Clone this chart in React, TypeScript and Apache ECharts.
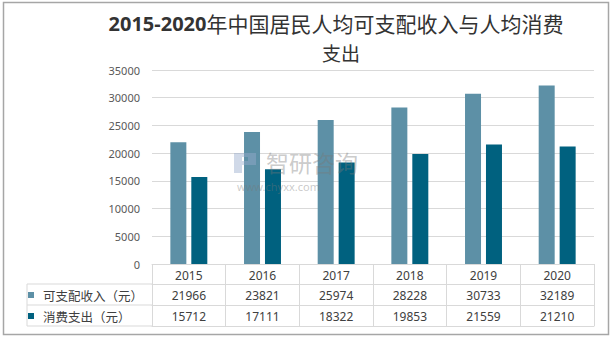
import React, { useEffect, useRef } from "react";
import * as echarts from "echarts";

const years = ["2015", "2016", "2017", "2018", "2019", "2020"];
const incomeName = "可支配收入（元）";
const expenseName = "消费支出（元）";
const income = [21966, 23821, 25974, 28228, 30733, 32189];
const expense = [15712, 17111, 18322, 19853, 21559, 21210];
const yTicks = { min: 0, max: 35000, interval: 5000 };

const titleLine1a = "2015-2020";
const titleLine1b = "年中国居民人均可支配收入与人均消费";
const titleLine2 = "支出";

const LINE = "#d9d9d9";
const TXT = "#404040";

echarts.graphic.registerShape(
  "logo",
  echarts.graphic.extendPath("M0 0H22V12H8V20H0Z M8 4V8H14V4Z", {}) as any
);

export default function App() {
  const ref = useRef<HTMLDivElement>(null);
  useEffect(() => {
    if (!ref.current) return;
    const chart = echarts.init(ref.current, undefined, { renderer: "svg" });
    const tableLabel = (arr: number[]) => (_v: string, i: number) => String(arr[i]);
    chart.setOption({
      animation: false,
      backgroundColor: "#fff",
      title: [
        {
          text: `{a|${titleLine1a}}{b|${titleLine1b}}`,
          left: 336,
          top: 11,
          textAlign: "center",
          padding: 0,
          textStyle: {
            rich: {
              a: { fontFamily: "Noto Sans", fontWeight: "bold", fontSize: 20, color: "#333", lineHeight: 24 },
              b: { fontFamily: "Noto Sans CJK SC", fontWeight: "normal", fontSize: 21, color: "#333", lineHeight: 24 },
            },
          },
        },
        {
          text: titleLine2,
          left: 341,
          top: 41,
          textAlign: "center",
          padding: 0,
          textStyle: { fontFamily: "Noto Sans CJK SC", fontWeight: "normal", fontSize: 19, color: "#333", lineHeight: 22 },
        },
      ],
      legend: {
        orient: "vertical",
        left: 28,
        top: 288,
        padding: 0,
        itemWidth: 6,
        itemHeight: 6,
        itemGap: 7,
        icon: "rect",
        selectedMode: false,
        textStyle: {
          fontFamily: "Noto Sans CJK SC",
          fontSize: 12.5,
          color: TXT,
          lineHeight: 14,
          padding: [0, 0, 0, 4],
        },
        data: [incomeName, expenseName],
      },
      grid: { left: 152, right: 19, top: 70, bottom: 75 },
      xAxis: [
        {
          type: "category",
          data: years,
          position: "bottom",
          axisLine: { lineStyle: { color: LINE } },
          axisTick: { show: true, length: 62, interval: 0, lineStyle: { color: LINE } },
          axisLabel: { margin: 5, fontFamily: "Noto Sans", fontSize: 12, color: TXT, interval: 0 },
        },
        {
          type: "category",
          data: years,
          position: "bottom",
          offset: 20,
          axisLine: { lineStyle: { color: LINE } },
          axisTick: { show: false },
          axisLabel: { margin: 5, fontFamily: "Noto Sans", fontSize: 12, color: TXT, interval: 0, formatter: tableLabel(income) },
        },
        {
          type: "category",
          data: years,
          position: "bottom",
          offset: 41,
          axisLine: { lineStyle: { color: LINE } },
          axisTick: { show: false },
          axisLabel: { margin: 5, fontFamily: "Noto Sans", fontSize: 12, color: TXT, interval: 0, formatter: tableLabel(expense) },
        },
        {
          type: "category",
          data: years,
          position: "bottom",
          offset: 62,
          axisLine: { lineStyle: { color: LINE } },
          axisTick: { show: false },
          axisLabel: { show: false },
        },
      ],
      yAxis: {
        type: "value",
        min: yTicks.min,
        max: yTicks.max,
        interval: yTicks.interval,
        axisLine: { show: false },
        axisTick: { show: false },
        axisLabel: { margin: 12, fontFamily: "Noto Sans", fontSize: 11, color: "#595959", formatter: (v: number) => String(v) },
        splitLine: { lineStyle: { color: LINE } },
      },
      series: [
        {
          name: incomeName,
          type: "bar",
          xAxisIndex: 0,
          data: income,
          barWidth: 16,
          barGap: "31%",
          itemStyle: { color: "#5d90a6" },
        },
        {
          name: expenseName,
          type: "bar",
          xAxisIndex: 0,
          data: expense,
          barWidth: 16,
          barGap: "31%",
          itemStyle: { color: "#00617f" },
        },
      ],
      graphic: [
        { type: "rect", shape: { x: 3.5, y: 2.5, width: 605, height: 332 }, style: { fill: "none", stroke: "#a6a6a6", lineWidth: 1.5 }, silent: true },
        { type: "line", shape: { x1: 27, y1: 284, x2: 152, y2: 284 }, style: { stroke: LINE, lineWidth: 1 } },
        { type: "line", shape: { x1: 27, y1: 305, x2: 152, y2: 305 }, style: { stroke: LINE, lineWidth: 1 } },
        { type: "line", shape: { x1: 27, y1: 326, x2: 152, y2: 326 }, style: { stroke: LINE, lineWidth: 1 } },
        { type: "line", shape: { x1: 27, y1: 284, x2: 27, y2: 326 }, style: { stroke: LINE, lineWidth: 1 } },
        {
          type: "logo",
          x: 234,
          y: 153,
          scaleX: 1,
          scaleY: 1,
          style: { fill: "rgba(150,170,205,0.45)" },
          silent: true,
          z: 100,
        },
        {
          type: "text",
          x: 266,
          y: 162,
          style: { text: "智研咨询", fontFamily: "Noto Sans CJK SC", fontSize: 23, fill: "rgba(120,120,120,0.4)", verticalAlign: "middle" },
          silent: true,
          z: 100,
        },
        {
          type: "text",
          x: 237,
          y: 186,
          style: { text: "www.chyxx.com", fontFamily: "Noto Sans", fontSize: 11, fill: "rgba(120,120,120,0.4)", verticalAlign: "middle" },
          silent: true,
          z: 100,
        },
      ],
    });
    return () => chart.dispose();
  }, []);
  return <div ref={ref} style={{ position: "fixed", left: 0, top: 0, width: 613, height: 339 }} />;
}
